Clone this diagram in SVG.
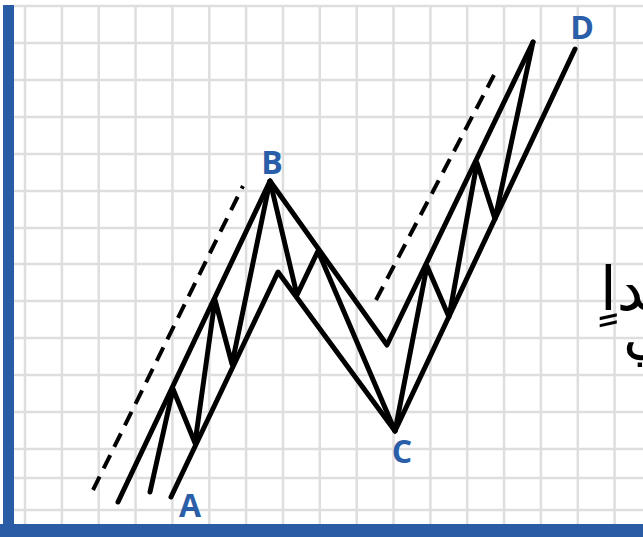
<svg xmlns="http://www.w3.org/2000/svg" width="643" height="537" viewBox="0 0 643 537">
<style>
.grid line{stroke:#dedede;stroke-width:2.5}
.w{fill:none;stroke:#000;stroke-width:5;stroke-linecap:round;stroke-linejoin:round}
.d{fill:none;stroke:#000;stroke-width:4;stroke-dasharray:15 9}
.lbl{font-family:"Open Sans","Liberation Sans",sans-serif;font-weight:700;font-size:32px;fill:#2a5ea8;text-anchor:middle}
.ar{font-family:"DejaVu Sans",sans-serif;font-size:60px;fill:#000}
</style>
<rect width="643" height="537" fill="#fff"/>
<g class="grid" id="grid">
<line x1="25" y1="5" x2="25" y2="524"/><line x1="61.9" y1="5" x2="61.9" y2="524"/><line x1="98.7" y1="5" x2="98.7" y2="524"/><line x1="135.6" y1="5" x2="135.6" y2="524"/><line x1="172.4" y1="5" x2="172.4" y2="524"/><line x1="209.3" y1="5" x2="209.3" y2="524"/><line x1="246.1" y1="5" x2="246.1" y2="524"/><line x1="283" y1="5" x2="283" y2="524"/><line x1="319.8" y1="5" x2="319.8" y2="524"/><line x1="356.7" y1="5" x2="356.7" y2="524"/><line x1="393.5" y1="5" x2="393.5" y2="524"/><line x1="430.4" y1="5" x2="430.4" y2="524"/><line x1="467.2" y1="5" x2="467.2" y2="524"/><line x1="504.1" y1="5" x2="504.1" y2="524"/><line x1="540.9" y1="5" x2="540.9" y2="524"/><line x1="577.8" y1="5" x2="577.8" y2="524"/><line x1="614.6" y1="5" x2="614.6" y2="524"/>
<line x1="14" y1="6" x2="643" y2="6"/><line x1="14" y1="43" x2="643" y2="43"/><line x1="14" y1="80" x2="643" y2="80"/><line x1="14" y1="117" x2="643" y2="117"/><line x1="14" y1="154" x2="643" y2="154"/><line x1="14" y1="191" x2="643" y2="191"/><line x1="14" y1="228" x2="643" y2="228"/><line x1="14" y1="264" x2="643" y2="264"/><line x1="14" y1="301" x2="643" y2="301"/><line x1="14" y1="338" x2="643" y2="338"/><line x1="14" y1="375" x2="643" y2="375"/><line x1="14" y1="412" x2="643" y2="412"/><line x1="14" y1="449" x2="643" y2="449"/><line x1="14" y1="478" x2="643" y2="478"/><line x1="14" y1="510" x2="643" y2="510"/>
</g>
<rect x="3" y="5" width="11" height="532" fill="#2a5ca6"/>
<rect x="0" y="524" width="643" height="13" fill="#2a5ca6"/>
<g id="connectors">
<line class="d" x1="93" y1="490" x2="243" y2="186"/>
<line class="d" x1="376" y1="300" x2="494" y2="75"/>
<polyline class="w" points="118,502 270,181 387,345 533,42"/>
<polyline class="w" points="171,497 278,272 395,431 575,49"/>
<polyline class="w" points="150,492 173,389 195,443 215,300 232,364 270,181"/>
<polyline class="w" points="270,181 297,295 318,251 395,431"/>
<polyline class="w" points="395,431 427,266 449,317 477,163 495,219 533,42"/>
</g>
<g id="label-A"><text class="lbl" x="190" y="517">A</text></g>
<g id="label-B"><text class="lbl" x="272" y="174">B</text></g>
<g id="label-C"><text class="lbl" x="402" y="463">C</text></g>
<g id="label-D"><text class="lbl" x="582" y="39">D</text></g>
<g id="arabic">
<text class="ar" x="600" y="310">ـداٍ</text>
<text class="ar" x="623" y="352">ي</text>
</g>
</svg>
